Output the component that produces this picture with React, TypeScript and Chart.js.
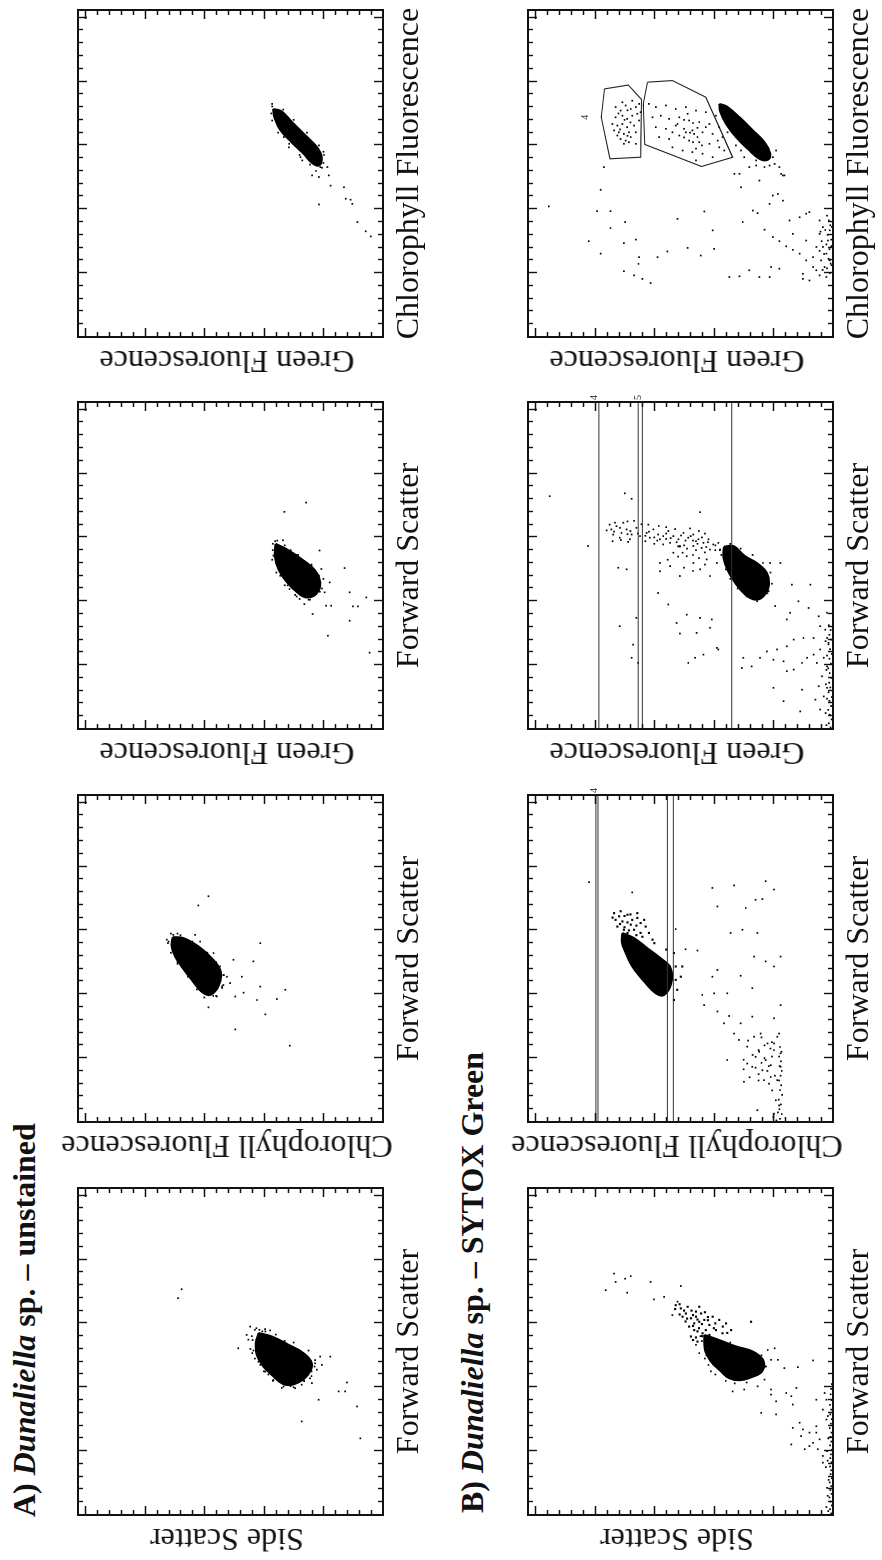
import React, { useEffect, useRef } from 'react';
import { Chart, registerables } from 'chart.js';

Chart.register(...registerables);

type P = [number, number];

// ---- axis definition (channel units, both axes) ----
const AXIS_MIN = 0;
const AXIS_MAX = 1024;
const MAJOR_STEP = 200;
const MINOR_STEP = 40;

// ---- axis titles ----
const FSC = 'Forward Scatter';
const SSC = 'Side Scatter';
const CHL = 'Chlorophyll Fluorescence';
const GRN = 'Green Fluorescence';

// ================= A) unstained =================
const A1_CORE: P[] = [[570,418],[559,373],[533,317],[507,267],[475,239],[439,252],[413,289],[408,329],[434,368],[465,402],[502,424],[538,427]];
const A1_DOTS: P[] = [[590,446],[580,430],[582,396],[578,379],[549,452],[564,458],[522,486],[507,439],[449,396],[423,368],[402,334],[397,295],[408,273],[428,245],[455,222],[496,211],[496,177],[475,228],[470,205],[413,239],[361,216],[387,149],[387,127],[415,121],[340,87],[293,273],[240,76],[679,688],[707,676],[575,405],[560,440],[545,420],[520,445],[490,430],[470,412],[440,385],[418,350],[404,310],[420,265],[450,240],[485,228],[515,250],[540,300],[585,425],[575,395],[565,360],[545,330],[520,290],[495,255],[465,230],[435,240],[420,265],[400,300],[398,340],[420,370],[450,400],[480,418],[515,435],[548,438],[580,415]];

const A2_CORE: P[] = [[579,706],[576,670],[550,620],[513,575],[471,545],[426,552],[398,580],[408,609],[445,642],[487,676],[518,698],[552,710]];
const A2_DOTS: P[] = [[571,726],[586,704],[586,631],[565,614],[707,586],[678,620],[455,524],[508,502],[393,496],[455,474],[503,435],[560,412],[424,412],[382,423],[385,356],[414,328],[337,395],[290,496],[239,313],[359,586],[429,536],[393,558],[529,569],[487,547],[435,513],[405,468],[590,690],[565,720],[540,705],[500,690],[470,660],[440,630],[410,595],[395,560],[420,540],[460,535],[500,560],[530,590],[560,640],[590,712],[585,680],[565,640],[530,590],[495,560],[460,535],[425,540],[395,570],[390,600],[415,625],[455,655],[495,690],[530,712],[560,722]];

const A3_CORE: P[] = [[580,361],[564,325],[533,275],[499,230],[459,211],[423,224],[412,258],[428,288],[462,325],[499,350],[538,363]];
const A3_DOTS: P[] = [[580,370],[591,336],[543,368],[559,213],[501,207],[459,179],[428,196],[386,191],[386,174],[360,236],[391,264],[504,129],[428,112],[384,101],[384,84],[412,56],[339,112],[292,185],[239,45],[709,258],[680,331],[449,236],[407,280],[438,314],[590,355],[570,345],[520,360],[480,345],[450,320],[420,295],[405,245],[440,205],[480,215],[515,240],[545,290],[560,310],[588,362],[575,330],[545,285],[510,240],[470,200],[430,212],[405,250],[415,290],[450,330],[490,358],[530,372],[560,370]];

const A4_CORE: P[] = [[714,369],[707,341],[673,305],[631,260],[594,221],[563,206],[537,215],[545,238],[576,269],[610,307],[647,344],[683,363]];
const A4_DOTS: P[] = [[730,372],[693,366],[626,333],[594,316],[563,277],[553,271],[506,238],[501,215],[532,187],[506,182],[474,176],[469,131],[430,109],[417,103],[433,125],[415,215],[360,86],[331,58],[315,41],[532,210],[520,225],[545,200],[700,375],[660,350],[600,290],[580,200],[722,372],[712,335],[680,300],[640,255],[600,215],[570,198],[530,205],[540,245],[570,280],[605,315],[640,352],[678,372]];

// ================= B) SYTOX Green =================
const B1_CORE: P[] = [[564,432],[548,382],[528,326],[512,269],[484,234],[450,238],[432,272],[422,314],[429,350],[453,380],[481,410],[517,430]];
const B1_CLOUD: P[] = [[647,511],[631,494],[616,477],[621,460],[605,449],[611,432],[595,415],[590,483],[579,466],[621,505],[631,443],[621,404],[611,382],[600,359],[579,342],[579,427],[559,477],[543,455],[657,528],[652,488],[637,460],[569,438],[579,393],[564,415],[569,371],[605,275],[652,449],[600,466],[640,500],[626,470],[612,455],[598,440],[585,400],[560,440],[548,470],[590,370],[570,355],[610,420],[585,450],[640,475],[615,490],[660,515],[645,530],[628,515],[606,495],[592,470],[575,455],[556,460],[600,395],[620,420],[635,430]];
const B1_DOTS: P[] = [[704,763],[756,735],[730,730],[740,698],[696,691],[748,679],[730,612],[675,601],[683,567],[717,511],[668,522],[626,539],[533,460],[507,449],[517,219],[522,196],[486,208],[465,225],[486,185],[460,163],[463,118],[484,67],[424,230],[403,253],[393,298],[387,337],[393,208],[356,191],[382,157],[372,140],[398,123],[346,135],[315,191],[320,241],[273,135],[289,112],[268,101],[258,79],[278,56],[237,45],[206,95],[226,67],[206,51],[185,34],[330,34],[361,22],[382,28],[361,56],[164,34],[216,79],[247,107],[221,140],[377,208],[258,56],[299,22],[560,445],[545,440],[500,425],[470,418],[440,395],[420,360],[412,330],[415,290],[440,255],[465,228],[500,240],[540,345],[450,410],[490,430]];
const B1_EDGE: P[] = [[5,6],[18,10],[30,4],[42,8],[55,12],[66,5],[78,9],[90,6],[102,11],[115,4],[128,8],[140,6],[152,10],[165,5],[178,9],[190,7],[204,4],[218,10],[230,6],[245,8],[258,5],[272,11],[286,7],[300,4],[315,9],[330,6],[345,10],[360,5],[378,8],[395,6],[410,4],[12,16],[60,18],[110,15],[170,18],[240,16],[310,17],[25,22],[85,20],[150,24],[200,20]];

const B2_CORE: P[] = [[592,707],[576,668],[544,623],[513,579],[482,545],[435,543],[398,567],[403,595],[440,634],[487,674],[529,696],[565,709]];
const B2_CLOUD: P[] = [[654,735],[644,718],[628,707],[649,690],[633,674],[639,657],[623,646],[612,629],[612,724],[602,702],[602,668],[592,646],[618,679],[660,713],[633,730],[633,634],[592,618],[654,657],[592,690],[571,606],[529,534],[487,528],[455,511],[445,528],[414,523],[382,534],[487,506],[645,700],[625,690],[615,660],[640,740],[620,715],[600,685],[585,660],[650,680],[610,700],[580,640],[560,600],[540,560]];
const B2_DOTS: P[] = [[751,819],[719,674],[604,528],[541,495],[537,455],[733,405],[741,332],[754,226],[728,198],[698,237],[696,260],[670,293],[675,388],[592,344],[602,304],[592,254],[518,265],[503,226],[487,198],[518,176],[458,310],[419,271],[403,355],[476,388],[455,405],[398,439],[403,399],[366,433],[346,388],[332,349],[309,366],[309,310],[330,271],[325,198],[277,181],[366,176],[267,187],[246,198],[215,176],[225,198],[194,355],[126,299],[37,254],[26,198],[257,316],[236,288],[220,248],[194,226],[178,209],[131,232],[99,204],[68,192],[52,181],[173,176],[131,187],[277,332],[267,265],[277,243],[246,220],[204,260],[183,288],[173,271],[162,237],[141,209],[150,250],[160,220],[170,260],[185,240],[200,230],[210,270],[225,250],[240,230],[255,285],[140,280],[130,250],[195,300],[165,300],[175,215],[205,205],[145,195],[120,215],[230,210],[250,205],[265,240]];
const B2_EDGE: P[] = [[10,178],[25,172],[40,180],[55,175],[70,182],[85,171],[100,178],[115,174],[130,181],[145,176],[160,172],[175,179],[190,175],[205,181],[220,173],[235,178],[5,190],[15,200],[30,185]];
const B2_GATES: number[] = [796, 789, 556, 536];
const B2_GATE_LABELS: string[] = ['4'];
const B2_LABEL_Y: number[] = [802];

const B3_CORE: P[] = [[571,366],[573,334],[541,295],[520,256],[489,222],[447,216],[416,233],[405,261],[421,295],[458,329],[497,354],[536,368]];
const B3_CLOUD: P[] = [[625,744],[635,727],[614,710],[625,693],[609,676],[630,660],[641,643],[614,626],[625,603],[609,587],[604,570],[620,553],[604,536],[594,519],[614,502],[599,486],[609,469],[594,452],[583,435],[594,418],[578,402],[583,385],[562,379],[562,413],[567,441],[573,469],[573,514],[583,547],[594,581],[599,615],[604,648],[594,682],[599,716],[646,732],[646,704],[609,738],[541,491],[520,469],[531,424],[500,446],[479,413],[520,390],[552,536],[520,581],[479,514],[510,547],[618,735],[630,715],[620,680],[612,655],[618,618],[600,600],[612,560],[598,545],[606,510],[590,495],[604,478],[588,460],[600,440],[585,420],[575,395],[560,395],[570,425],[580,455],[590,470],[575,500],[585,525],[595,560],[590,590],[605,630],[610,690],[640,750],[622,760],[588,740],[592,712],[586,688],[650,690],[652,668],[640,620],[588,630],[580,600],[636,585],[632,560],[578,570],[626,530],[572,520],[628,480],[565,490],[620,450],[560,460],[612,430],[553,430],[552,505],[545,470],[535,450],[540,520],[530,555],[505,500],[495,470],[515,430]];
const B3_DOTS: P[] = [[729,951],[573,822],[738,699],[721,676],[505,721],[500,693],[679,446],[571,514],[494,581],[426,587],[390,553],[358,491],[348,446],[343,407],[332,525],[299,514],[301,458],[317,413],[254,390],[249,385],[233,435],[207,486],[223,463],[520,362],[520,211],[520,177],[432,216],[385,194],[452,138],[452,76],[400,116],[379,82],[353,48],[364,20],[364,144],[343,155],[322,43],[311,26],[285,20],[285,65],[285,99],[280,132],[259,155],[249,188],[243,222],[223,245],[217,200],[212,166],[186,132],[181,155],[207,104],[223,87],[233,65],[249,43],[223,31],[207,54],[196,20],[165,37],[134,48],[102,31],[92,59],[123,104],[129,200],[87,166],[55,110],[61,43],[129,20],[270,15],[223,301],[196,273],[191,306],[264,671],[322,716],[348,660],[223,676],[207,654],[560,380],[545,375],[500,360],[470,345],[440,320],[415,290],[400,255],[425,220],[455,205],[490,210],[520,235],[545,270],[565,310],[580,345]];
const B3_EDGE: P[] = [[5,8],[18,14],[30,5],[45,11],[60,16],[72,6],[88,12],[100,4],[115,15],[130,9],[145,13],[160,5],[175,11],[190,16],[205,7],[220,12],[235,4],[250,10],[265,15],[280,6],[295,12],[310,8],[325,14],[12,22],[50,25],[95,20],[140,24],[185,22],[230,20],[275,25]];
const B3_GATES: number[] = [786, 654, 640, 340];
const B3_GATE_LABELS: string[] = ['4', '5'];
const B3_LABEL_Y: number[] = [800, 652];

const B4_CORE: P[] = [[730,382],[722,357],[688,314],[647,269],[610,230],[574,211],[555,219],[558,247],[589,286],[626,326],[667,359],[704,378]];
const B4_GATE4: P[] = [[777,767],[789,687],[744,643],[563,646],[558,749],[688,778]];
const B4_GATE5: P[] = [[798,623],[803,539],[751,427],[563,337],[534,441],[603,632],[730,637]];
const B4_GATED: P[] = [[720,730],[709,713],[725,696],[714,679],[720,662],[688,730],[693,707],[683,691],[693,674],[699,657],[662,724],[667,707],[657,691],[662,668],[641,719],[636,702],[641,685],[641,662],[620,713],[615,696],[626,679],[647,735],[678,651],[730,651],[704,646],[667,741],[631,724],[605,702],[610,685],[605,662],[740,674],[735,707],[700,720],[680,700],[650,715],[630,690],[672,680],[710,690],[730,618],[720,595],[725,561],[714,528],[720,494],[709,460],[704,427],[693,393],[688,606],[693,578],[683,550],[688,516],[678,483],[673,449],[667,415],[657,382],[657,595],[652,561],[662,528],[652,500],[647,472],[641,438],[636,404],[626,371],[626,584],[620,550],[631,516],[615,483],[610,449],[605,415],[594,382],[594,539],[584,505],[579,472],[574,438],[563,404],[553,460],[699,488],[667,522],[636,466],[657,427],[641,494],[626,455],[641,539],[615,387],[584,365],[670,470],[655,455],[640,480],[625,500],[680,500],[610,470],[600,440],[590,460]];
const B4_DOTS: P[] = [[532,769],[461,780],[394,792],[394,747],[341,747],[360,698],[300,820],[261,780],[294,702],[305,662],[250,651],[229,653],[206,702],[193,668],[182,640],[169,612],[250,589],[268,556],[279,488],[370,522],[393,432],[255,444],[334,404],[276,399],[188,348],[190,314],[209,281],[396,269],[388,253],[360,303],[336,230],[313,202],[300,180],[284,157],[273,135],[261,112],[240,90],[219,67],[209,56],[182,101],[177,79],[193,45],[219,28],[261,22],[302,17],[344,34],[365,45],[391,79],[386,90],[375,112],[365,146],[427,168],[443,202],[417,213],[448,185],[323,135],[302,90],[282,56],[282,34],[323,45],[584,191],[532,180],[506,168],[532,230],[537,213],[537,258],[511,314],[511,331],[469,309],[490,247],[219,208],[214,180],[188,247],[188,213],[198,101],[250,67],[334,11],[282,6],[240,11],[188,22],[409,954],[584,309],[563,298],[532,281],[553,258],[563,202],[542,196],[511,174],[506,163],[600,326],[641,354],[709,371]];
const B4_EDGE: P[] = [[200,10],[215,20],[230,8],[245,15],[260,30],[275,12],[290,22],[305,6],[320,18],[335,26],[350,9],[365,14],[380,20],[210,35],[240,40],[270,45],[300,38],[330,42],[225,5],[285,5],[345,4]];
const B4_GATE_LABELS: string[] = ['4'];
const B4_LABEL_XY: P[] = [[688, 831]];

// ---------------------------------------------------------------
type Label = { x: number; y: number; text: string };
type Spec = {
  key: string; col: number; row: number; xTitle: string; yTitle: string;
  core: P[]; clouds: P[][]; dots: P[][]; gates: number[]; polys: P[][]; labels: Label[];
};

const gateLabels = (texts: string[], ys: number[]): Label[] =>
  texts.map((t, i) => ({ x: AXIS_MAX + 14, y: ys[i], text: t }));

const SPECS: Spec[] = [
  { key: 'A1', col: 0, row: 0, xTitle: FSC, yTitle: SSC, core: A1_CORE, clouds: [], dots: [A1_DOTS], gates: [], polys: [], labels: [] },
  { key: 'A2', col: 1, row: 0, xTitle: FSC, yTitle: CHL, core: A2_CORE, clouds: [], dots: [A2_DOTS], gates: [], polys: [], labels: [] },
  { key: 'A3', col: 2, row: 0, xTitle: FSC, yTitle: GRN, core: A3_CORE, clouds: [], dots: [A3_DOTS], gates: [], polys: [], labels: [] },
  { key: 'A4', col: 3, row: 0, xTitle: CHL, yTitle: GRN, core: A4_CORE, clouds: [], dots: [A4_DOTS], gates: [], polys: [], labels: [] },
  { key: 'B1', col: 0, row: 1, xTitle: FSC, yTitle: SSC, core: B1_CORE, clouds: [B1_CLOUD], dots: [B1_DOTS, B1_EDGE], gates: [], polys: [], labels: [] },
  { key: 'B2', col: 1, row: 1, xTitle: FSC, yTitle: CHL, core: B2_CORE, clouds: [B2_CLOUD], dots: [B2_DOTS, B2_EDGE], gates: B2_GATES, polys: [], labels: gateLabels(B2_GATE_LABELS, B2_LABEL_Y) },
  { key: 'B3', col: 2, row: 1, xTitle: FSC, yTitle: GRN, core: B3_CORE, clouds: [], dots: [B3_CLOUD, B3_DOTS, B3_EDGE], gates: B3_GATES, polys: [], labels: gateLabels(B3_GATE_LABELS, B3_LABEL_Y) },
  { key: 'B4', col: 3, row: 1, xTitle: CHL, yTitle: GRN, core: B4_CORE, clouds: [], dots: [B4_GATED, B4_DOTS, B4_EDGE], gates: [], polys: [B4_GATE4, B4_GATE5], labels: B4_GATE_LABELS.map((t, i) => ({ x: B4_LABEL_XY[i][0], y: B4_LABEL_XY[i][1], text: t })) },
];

// ---- layout (un-rotated figure, 1560 x 882) ----
const FIG_W = 1560;
const FIG_H = 882;
const COL_LEFT = [45, 438, 831, 1223];
const ROW_TOP = [78, 528];
const PLOT_W = 327;
const PLOT_H = 305;
const PAD = 14;
const SERIF = "'Liberation Serif', 'Times New Roman', Times, serif";

const framePlugin = {
  id: 'frame',
  afterDatasetsDraw(chart: any) {
    const { ctx, chartArea: a, scales } = chart;
    const xs = scales.x;
    const ys = scales.y;
    ctx.save();
    ctx.strokeStyle = '#111';
    ctx.lineWidth = 1.4;
    ctx.beginPath();
    for (let v = AXIS_MIN + MINOR_STEP; v < AXIS_MAX; v += MINOR_STEP) {
      const L = v % MAJOR_STEP === 0 ? 9 : 5;
      const px = Math.round(xs.getPixelForValue(v)) + 0.5;
      ctx.moveTo(px, a.bottom); ctx.lineTo(px, a.bottom - L);
      ctx.moveTo(px, a.top); ctx.lineTo(px, a.top + L);
      const py = Math.round(ys.getPixelForValue(v)) + 0.5;
      ctx.moveTo(a.left, py); ctx.lineTo(a.left + L, py);
      ctx.moveTo(a.right, py); ctx.lineTo(a.right - L, py);
    }
    ctx.stroke();
    ctx.lineWidth = 2;
    ctx.strokeRect(a.left, a.top, a.right - a.left, a.bottom - a.top);
    const labels: Label[] = chart.options.plugins.frame?.labels || [];
    ctx.fillStyle = '#222';
    ctx.font = `10px ${SERIF}`;
    ctx.textAlign = 'center';
    ctx.textBaseline = 'middle';
    labels.forEach((l) => {
      ctx.fillText(l.text, xs.getPixelForValue(l.x), ys.getPixelForValue(l.y));
    });
    ctx.restore();
  },
};

const toXY = (arr: P[]) => arr.map(([x, y]) => ({ x, y }));

function Panel({ spec }: { spec: Spec }) {
  const ref = useRef<HTMLCanvasElement | null>(null);
  const cw = PLOT_W + 2 * PAD;
  const ch = PLOT_H + 2 * PAD;
  useEffect(() => {
    if (!ref.current) return;
    const datasets: any[] = [];
    spec.gates.forEach((g) =>
      datasets.push({ type: 'line', data: [{ x: AXIS_MIN, y: g }, { x: AXIS_MAX, y: g }], borderColor: '#333', borderWidth: 1, pointRadius: 0, fill: false })
    );
    spec.polys.forEach((poly) =>
      datasets.push({ type: 'line', data: toXY([...poly, poly[0]]), borderColor: '#222', borderWidth: 1.1, pointRadius: 0, fill: false, tension: 0 })
    );
    datasets.push({
      type: 'line', data: toXY([...spec.core, spec.core[0]]), borderColor: '#000', backgroundColor: '#000',
      borderWidth: 2, pointRadius: 0, fill: 'shape', tension: 0.4,
    });
    spec.clouds.forEach((c) =>
      datasets.push({ type: 'scatter', data: toXY(c), pointStyle: 'rect', pointRadius: 1.5, backgroundColor: '#000', borderColor: '#000', pointBorderWidth: 0 })
    );
    spec.dots.forEach((d) =>
      datasets.push({ type: 'scatter', data: toXY(d), pointStyle: 'rect', pointRadius: 1.2, backgroundColor: '#000', borderColor: '#000', pointBorderWidth: 0 })
    );
    const chart = new Chart(ref.current, {
      type: 'scatter',
      data: { datasets },
      options: {
        animation: false,
        responsive: false,
        maintainAspectRatio: false,
        devicePixelRatio: 1,
        events: [],
        layout: { padding: PAD },
        plugins: {
          legend: { display: false },
          tooltip: { enabled: false },
          frame: { labels: spec.labels },
        } as any,
        scales: {
          x: { type: 'linear', min: AXIS_MIN, max: AXIS_MAX, display: false },
          y: { type: 'linear', min: AXIS_MIN, max: AXIS_MAX, display: false },
        },
      },
      plugins: [framePlugin],
    } as any);
    return () => chart.destroy();
  }, [spec]);
  const left = COL_LEFT[spec.col];
  const top = ROW_TOP[spec.row];
  const textStyle: React.CSSProperties = {
    position: 'absolute', fontFamily: SERIF, fontSize: 32, lineHeight: '32px', color: '#111', whiteSpace: 'nowrap',
  };
  return (
    <>
      <canvas
        ref={ref}
        width={cw}
        height={ch}
        style={{ position: 'absolute', left: left - PAD, top: top - PAD, width: cw, height: ch }}
      />
      <div style={{ ...textStyle, left: left + PLOT_W / 2, top: top + PLOT_H + 8, transform: 'translateX(-50%)' }}>
        {spec.xTitle}
      </div>
      <div
        style={{
          ...textStyle, left: left - 25, top: top + PLOT_H / 2 - 4,
          transform: 'translate(-50%, -50%) rotate(-90deg)',
        }}
      >
        {spec.yTitle}
      </div>
    </>
  );
}

export default function App() {
  const heading: React.CSSProperties = {
    position: 'absolute', fontFamily: SERIF, fontSize: 32, lineHeight: '32px', fontWeight: 'bold', color: '#111', whiteSpace: 'nowrap',
  };
  return (
    <div style={{ position: 'absolute', left: 0, top: 0, width: FIG_H, height: FIG_W, overflow: 'hidden', background: '#fff' }}>
      <div
        style={{
          position: 'absolute', left: 0, top: 0, width: FIG_W, height: FIG_H,
          transformOrigin: '0 0', transform: `translateY(${FIG_W}px) rotate(-90deg)`, background: '#fff',
        }}
      >
        <div style={{ ...heading, left: 43, top: 8 }}>
          A) <i>Dunaliella</i> sp. – unstained
        </div>
        <div style={{ ...heading, left: 47, top: 456 }}>
          B) <i>Dunaliella</i> sp. – SYTOX Green
        </div>
        {SPECS.map((s) => (
          <Panel key={s.key} spec={s} />
        ))}
      </div>
    </div>
  );
}
